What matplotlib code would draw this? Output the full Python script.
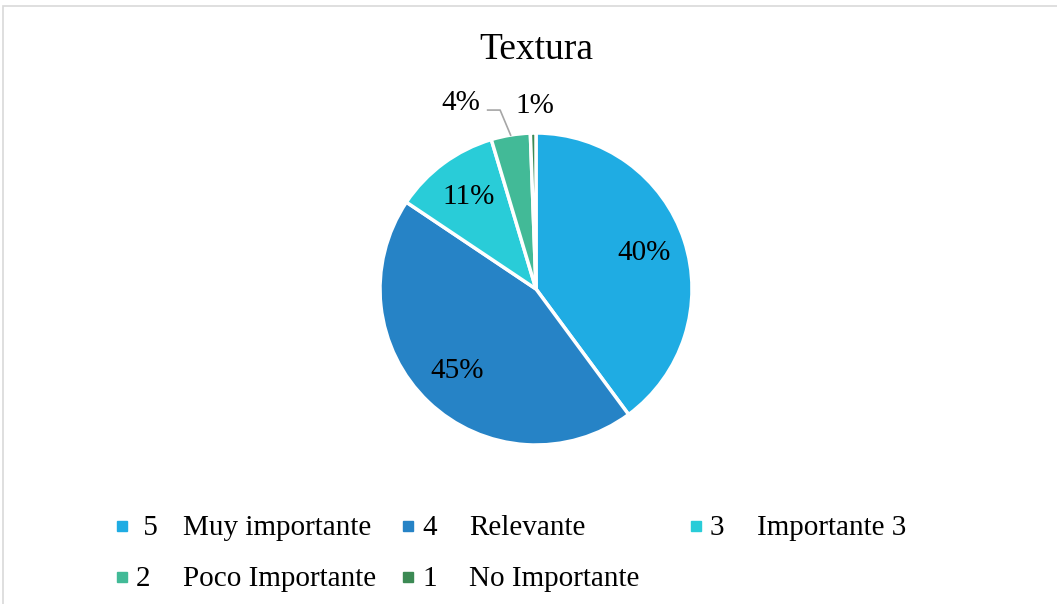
import numpy as np
import matplotlib.pyplot as plt
from matplotlib.patches import Rectangle

# datos
numeros = [" 5", "4", "3", "2", "1"]
nombres = ["Muy importante", "Relevante", "Importante 3",
           "Poco Importante", "No Importante"]
valores = [69, 77, 19, 7, 1]
colores = ["#1FACE3", "#2683C6", "#29CCD8", "#42BA97", "#3C8A54"]

plt.rcParams['font.family'] = ['Liberation Serif', 'DejaVu Serif']

W, H = 1057, 604
fig = plt.figure(figsize=(W / 100, H / 100), dpi=100)

# marco gris del área del gráfico
fig.patches.append(Rectangle((3 / W, -0.05), 1.1, 1 - 6 / H + 0.05,
                             transform=fig.transFigure, fill=False,
                             edgecolor="#D9D9D9", linewidth=1.2))

R = 156
cx, cy = 536, H - 289
lim = 1.25
size = 2 * lim * R
ax = fig.add_axes([(cx - size / 2) / W, (cy - size / 2) / H, size / W, size / H])
ax.set_xlim(-lim, lim)
ax.set_ylim(-lim, lim)
ax.axis("off")

wedges, _ = ax.pie(valores, colors=colores, startangle=90, counterclock=False,
                   radius=1, wedgeprops=dict(edgecolor="white", linewidth=2.5))

total = sum(valores)
pct = [round(v / total * 100) for v in valores]

# etiquetas dentro de las porciones grandes
for w, p in zip(wedges[:3], pct[:3]):
    ang = np.deg2rad((w.theta1 + w.theta2) / 2)
    ax.text(0.73 * np.cos(ang), 0.73 * np.sin(ang), f"{p}%",
            ha="center", va="center", fontsize=21)

# etiquetas fuera para las porciones pequeñas
w4 = wedges[3]
ang4 = np.deg2rad((w4.theta1 + w4.theta2) / 2)
ax.plot([np.cos(ang4), -0.23, -0.31], [np.sin(ang4), 1.147, 1.147],
        color="#A6A6A6", linewidth=1.2)
ax.text(-0.48, 1.19, f"{pct[3]}%", ha="center", va="center", fontsize=21)
ax.text(-0.01, 1.17, f"{pct[4]}%", ha="center", va="center", fontsize=21)

fig.text(cx / W, 1 - 50 / H, "Textura", ha="center", va="center", fontsize=27)

# leyenda al estilo Excel
marcas_x = [122, 408, 696, 122, 408]
filas_y = [526, 526, 526, 577, 577]
for mx, my, num, nom, col in zip(marcas_x, filas_y, numeros, nombres, colores):
    fig.patches.append(Rectangle(((mx - 5) / W, 1 - (my + 5) / H), 10 / W, 10 / H,
                                 transform=fig.transFigure, color=col))
    fig.text((mx + 14) / W, 1 - (my + 2) / H, num, ha="left", va="center", fontsize=21)
    fig.text((mx + 61) / W, 1 - (my + 2) / H, nom, ha="left", va="center", fontsize=21)

plt.savefig("out.png", dpi=100)
